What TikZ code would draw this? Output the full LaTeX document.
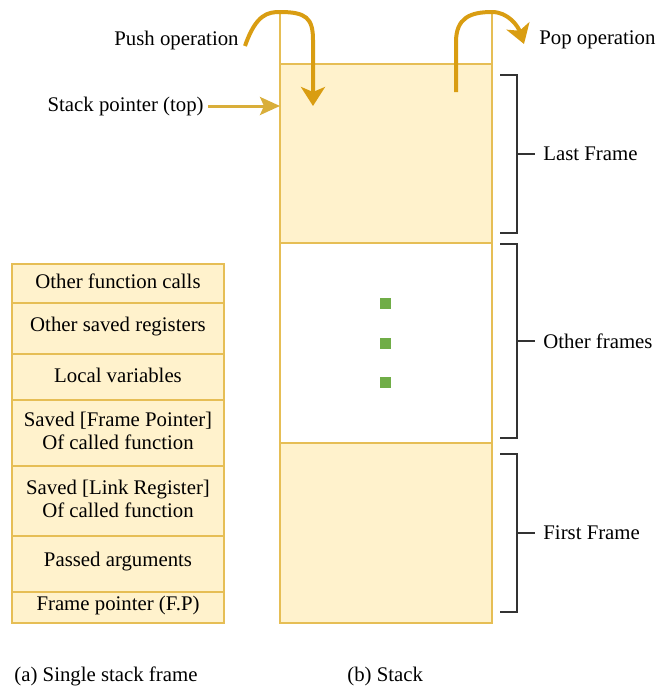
\documentclass[tikz,border=0pt]{standalone}
\usepackage{fontspec}
\setmainfont{LiberationSerif}[Extension=.ttf, UprightFont=*-Regular, BoldFont=*-Bold]
\usetikzlibrary{arrows.meta}
\definecolor{framefill}{HTML}{FFF2CC}
\definecolor{frameline}{HTML}{E6BE55}
\definecolor{oparrow}{HTML}{D99D12}
\definecolor{sparrow}{HTML}{D9AE3A}
\definecolor{dotgreen}{HTML}{70AD47}
\definecolor{bracket}{HTML}{333333}

\begin{document}
\begin{tikzpicture}[x=0.5pt,y=-0.5pt,
	every node/.style={font=\rmfamily\fontsize{10.4}{11.8}\selectfont, inner sep=0pt},
	cellbox/.style={draw=frameline, fill=framefill, line width=0.75pt},
	opline/.style={draw=oparrow, line width=2pt, -{Stealth[length=9.5pt,width=12pt,inset=2.5pt]}},
	brace/.style={draw=bracket, line width=1pt},
	dot/.style={fill=dotgreen, minimum size=5.5pt}]
			\useasboundingbox (0,0) rectangle (659,686);
			% single stack frame
			\foreach \ya/\yb/\txt [count=\i] in {264/303/{Other function calls}, 303/354/{Other saved registers}, 354/400/{Local variables}, 400/466/{Saved [Frame Pointer]\\Of called function}, 466/536/{Saved [Link Register]\\Of called function}, 536/592/{Passed arguments}, 592/623/{Frame pointer (F.P)}}{
				\draw[cellbox] (12,\ya) rectangle (224,\yb);
				\node[align=center] (c\i) at (118,{(\ya+\yb)/2-2}) {\txt};
			}
			% stack
			\draw[cellbox] (280,64) rectangle (492,243);
			\draw[cellbox, fill=white] (280,243) rectangle (492,443);
			\draw[cellbox] (280,443) rectangle (492,623);
			\draw[draw=frameline, line width=0.75pt] (280,12) -- (280,64);
			\draw[draw=frameline, line width=0.75pt] (492,12) -- (492,64);
			\node[dot] (d1) at (385,303) {};
			\node[dot] (d2) at (385,343) {};
			\node[dot] (d3) at (385,382) {};
			% labels
			\node[anchor=east] (push) at (239,40) {Push operation};
			\node[anchor=west] (pop) at (539,40) {Pop operation};
			\node[anchor=east] (sp) at (204,106) {Stack pointer (top)};
			\node[anchor=west] (last) at (543,154) {Last Frame};
			\node[anchor=west] (other) at (543,341) {Other frames};
			\node[anchor=west] (first) at (543,533) {First Frame};
			\node[anchor=west] (capa) at (14,676) {(a) Single stack frame};
			\node[anchor=west] (capb) at (347,676) {(b) Stack};
			\coordinate (pushend) at (313,106);
			\coordinate (popstart) at (456,92);
			\coordinate (popend) at (524,44);
			\coordinate (spend) at (280,106);
			% operations
			\draw[opline] ([xshift=3pt,yshift=-3pt]push.east) .. controls (256,14) and (268,12) .. (280,12) .. controls (306,12) and (313,18) .. (313,40) -- (pushend);
			\draw[opline] (popstart) -- (456,42) .. controls (456,18) and (470,12) .. (492,12) .. controls (508,12) and (518,26) .. (popend);
			\draw[draw=sparrow, line width=1.5pt, -{Stealth[length=10pt,width=9pt,inset=2pt]}] (sp.east) ++(4,0) -- (spend);
			% brackets
			\draw[brace] (500,75) -- (517,75) -- (517,233) -- (500,233);
			\draw[brace] (517,154) -- ([xshift=-4pt]last.west);
			\draw[brace] (500,244) -- (517,244) -- (517,438) -- (500,438);
			\draw[brace] (517,341) -- ([xshift=-4pt]other.west);
			\draw[brace] (500,454) -- (517,454) -- (517,612) -- (500,612);
			\draw[brace] (517,533) -- ([xshift=-4pt]first.west);
			\end{tikzpicture}
\end{document}
